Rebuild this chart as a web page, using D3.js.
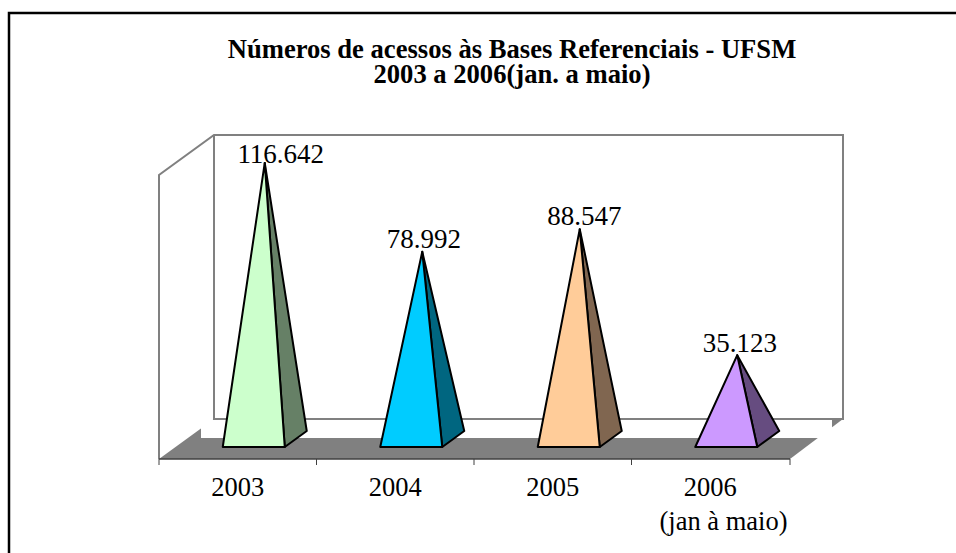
<!DOCTYPE html>
<html>
<head>
<meta charset="utf-8">
<script src="https://cdn.jsdelivr.net/npm/d3@7"></script>
<style>
    html, body {margin: 0; padding: 0; background: #fff;}
    svg {display: block;}
    text {font-family: "Liberation Serif", serif; fill: #000;}
</style>
</head>
<body>
<div id="chart"></div>
<script>
// values
const years = ["2003", "2004", "2005", "2006"];
const acessos = [116642, 78992, 88547, 35123];
const valueLabels = ["116.642", "78.992", "88.547", "35.123"];
const frontColors = ["#ccffcc", "#00ccff", "#ffcc99", "#cc99ff"];
const sideColors = ["#668066", "#006680", "#806650", "#664c80"];
const titleLines = ["Números de acessos às Bases Referenciais - UFSM", "2003 a 2006(jan. a maio)"];
const yDomain = [0, 120000];

const width = 956, height = 553;
const svg = d3.select("#chart").append("svg")
    .attr("width", width)
    .attr("height", height);

// outer frame, runs off the right and the bottom of the image
svg.append("path")
    .attr("d", `M9,${height} V13 H${width}`)
    .attr("fill", "none")
    .attr("stroke", "#000")
    .attr("stroke-width", 2.5);

// title
svg.selectAll(".title")
    .data(titleLines)
    .enter().append("text")
    .attr("class", "title")
    .attr("x", 512)
    .attr("y", (d, i) => 58 + i * 25)
    .attr("text-anchor", "middle")
    .style("font-weight", "bold")
    .style("font-size", "26.6px")
    .text(d => d);

// plot geometry: front plane plus an oblique shift towards the back
const plot = {left: 159, right: 790, floor: 459, top: 175, dx: 55, dy: 40};

const x = d3.scaleBand().domain(years).range([plot.left, plot.right - 1]);
const y = d3.scaleLinear().domain(yDomain).range([438, 155]);

// back and side walls
const back = {
    left: plot.left + plot.dx, right: plot.right + 53,
    top: plot.top - plot.dy, bottom: plot.floor - plot.dy
};
svg.append("path")
    .attr("d", `M${plot.left},${plot.floor} V${plot.top} L${back.left},${back.top} H${back.right} V${back.bottom} H${back.left} V${back.top}`)
    .attr("fill", "none")
    .attr("stroke", "#808080")
    .attr("stroke-width", 2);

// floor, with the white strip Excel leaves behind the bars
svg.append("path")
    .attr("d", `M${plot.left},${plot.floor} L${back.left},${back.bottom} H${back.right} L${plot.right},${plot.floor} Z`)
    .attr("fill", "#808080");
svg.append("rect")
    .attr("x", 201)
    .attr("y", back.bottom + 1)
    .attr("width", 631)
    .attr("height", 18)
    .attr("fill", "#fff");
svg.append("line")
    .attr("x1", back.left)
    .attr("x2", back.right)
    .attr("y1", back.bottom)
    .attr("y2", back.bottom)
    .attr("stroke", "#808080")
    .attr("stroke-width", 2);

// axis line and ticks at the band edges
const tickPositions = years.map(d => x(d)).concat(plot.right);
svg.append("line")
    .attr("x1", plot.left)
    .attr("x2", plot.right)
    .attr("y1", plot.floor)
    .attr("y2", plot.floor)
    .attr("stroke", "#404040")
    .attr("stroke-width", 1.5);
svg.selectAll(".tick-mark")
    .data(tickPositions)
    .enter().append("line")
    .attr("class", "tick-mark")
    .attr("x1", d => d)
    .attr("x2", d => d)
    .attr("y1", plot.floor)
    .attr("y2", plot.floor + 6)
    .attr("stroke", "#404040");

// pyramids
const baseFront = 447, baseBack = 431;
// the labels are not centred on the apex in the original
const labelDx = [16, 1.5, 4.5, 2.5];
const labelDy = [0, -4, -4, -3];

const rows = years.map((year, i) => ({
    year: year,
    value: acessos[i],
    label: valueLabels[i],
    front: frontColors[i],
    side: sideColors[i],
    cx: x(year) + x.bandwidth() / 2,
    dx: labelDx[i],
    dy: labelDy[i]
}));

const pyramids = svg.selectAll(".pyramid")
    .data(rows)
    .enter().append("g")
    .attr("class", "pyramid");

pyramids.append("path")
    .attr("d", d => `M${d.cx + 47},${baseFront} L${d.cx + 69},${baseBack} L${d.cx + 27},${y(d.value)} Z`)
    .attr("fill", d => d.side)
    .attr("stroke", "#000")
    .attr("stroke-width", 2)
    .attr("stroke-linejoin", "round");

pyramids.append("path")
    .attr("d", d => `M${d.cx - 15},${baseFront} H${d.cx + 47} L${d.cx + 27},${y(d.value)} Z`)
    .attr("fill", d => d.front)
    .attr("stroke", "#000")
    .attr("stroke-width", 2)
    .attr("stroke-linejoin", "round");

// data labels
pyramids.append("text")
    .attr("x", d => d.cx + 27 + d.dx)
    .attr("y", d => y(d.value) + d.dy)
    .attr("text-anchor", "middle")
    .style("font-size", "27px")
    .text(d => d.label);

// category labels
svg.selectAll(".year")
    .data(rows)
    .enter().append("text")
    .attr("class", "year")
    .attr("x", d => d.cx)
    .attr("y", 496)
    .attr("text-anchor", "middle")
    .style("font-size", "26.5px")
    .text(d => d.year);

svg.append("text")
    .attr("x", 723.5)
    .attr("y", 530)
    .attr("text-anchor", "middle")
    .style("font-size", "26.5px")
    .text("(jan à maio)");
</script>
</body>
</html>
